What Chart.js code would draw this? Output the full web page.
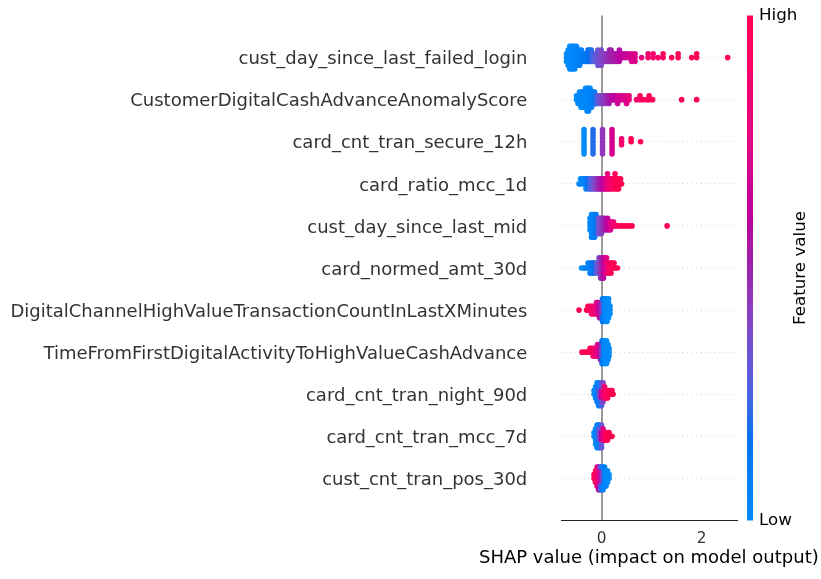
<!DOCTYPE html>
<html><head><meta charset="utf-8">
<script src="https://cdn.jsdelivr.net/npm/chart.js@4"></script>
<style>html,body{margin:0;padding:0;background:#fff}canvas{display:block}</style>
</head><body>
<canvas id="c" width="821" height="579" style="width:821px;height:579px"></canvas>
<script>
// Feature names, top to bottom
const features = [
  "cust_day_since_last_failed_login",
  "CustomerDigitalCashAdvanceAnomalyScore",
  "card_cnt_tran_secure_12h",
  "card_ratio_mcc_1d",
  "cust_day_since_last_mid",
  "card_normed_amt_30d",
  "DigitalChannelHighValueTransactionCountInLastXMinutes",
  "TimeFromFirstDigitalActivityToHighValueCashAdvance",
  "card_cnt_tran_night_90d",
  "card_cnt_tran_mcc_7d",
  "cust_cnt_tran_pos_30d"
];
const xTicks = [0, 2];
const colorbarLabels = ["Low", "High"];
const xTitle = "SHAP value (impact on model output)";
const cbTitle = "Feature value";

// Each entry: [SHAP value, number of samples at that value, normalised feature value 0..1]
const rowFailedLogin = [
 [-0.700,3,0.02],[-0.667,5,0.0],[-0.634,7,0.02],[-0.601,7,0.0],[-0.568,7,0.03],[-0.535,7,0.02],[-0.502,6,0.05],[-0.469,5,0.05],[-0.436,5,0.08],[-0.403,4,0.08],
 [-0.370,3,0.1],[-0.337,3,0.12],[-0.304,3,0.12],[-0.271,4,0.15],[-0.238,4,0.18],[-0.205,4,0.2],[-0.172,3,0.23],[-0.139,3,0.26],[-0.106,3,0.3],[-0.073,5,0.32],[-0.040,3,0.35],
 [-0.007,5,0.38],[0.026,3,0.4],[0.059,3,0.42],[0.092,3,0.44],[0.125,3,0.46],[0.158,4,0.48],[0.191,4,0.5],[0.224,3,0.52],[0.257,2,0.54],[0.290,3,0.55],[0.323,2,0.57],[0.356,4,0.58],[0.389,2,0.6],[0.422,2,0.62],[0.470,2,0.64],[0.530,2,0.66],[0.600,3,0.7],[0.670,3,0.72],
 [0.80,1,0.8],[0.93,2,0.85],[1.03,2,0.88],[1.13,1,0.9],[1.23,2,0.92],[1.40,1,0.95],[1.53,2,0.95],[1.80,1,0.98],[1.90,2,1.0],[2.52,1,1.0]
];
const rowAnomalyScore = [
 [-0.50,2,0.0],[-0.47,3,0.0],[-0.44,4,0.02],[-0.41,5,0.0],[-0.38,5,0.02],[-0.35,5,0.03],[-0.32,6,0.02],[-0.29,7,0.0],[-0.26,7,0.03],[-0.23,6,0.05],[-0.20,5,0.05],[-0.17,4,0.08],[-0.14,4,0.1],
 [-0.11,3,0.2],[-0.08,3,0.25],[-0.05,2,0.3],[-0.02,3,0.35],[0.02,3,0.4],[0.05,2,0.42],[0.08,3,0.45],[0.12,2,0.5],[0.15,3,0.52],[0.18,2,0.55],[0.22,2,0.58],[0.25,2,0.6],[0.28,2,0.62],[0.32,3,0.65],[0.35,2,0.68],[0.40,2,0.7],[0.45,2,0.72],[0.50,3,0.75],[0.55,2,0.8],
 [0.70,1,0.9],[0.77,2,0.92],[0.83,1,0.95],[0.90,1,0.95],[0.95,2,0.97],[1.02,1,1.0],[1.60,1,1.0],[1.90,1,1.0]
];
const rowSecure12h = [[-0.35,9,0.0],[-0.17,9,0.2],[0.02,9,0.45],[0.21,9,0.7],[0.40,3,0.88],[0.59,2,1.0],[0.78,1,1.0]];
const rowRatioMcc = [
 [-0.45,1,0.0],[-0.42,2,0.02],[-0.38,2,0.05],[-0.35,2,0.05],[-0.31,3,0.1],[-0.28,2,0.15],[-0.25,3,0.2],[-0.22,3,0.25],[-0.18,3,0.3],[-0.15,3,0.35],[-0.12,3,0.4],[-0.08,3,0.45],[-0.05,3,0.5],[-0.02,3,0.55],[0.02,3,0.6],[0.05,3,0.65],[0.08,3,0.7],[0.12,4,0.8],[0.15,3,0.85],[0.18,3,0.88],[0.22,3,0.9],[0.27,4,0.95],[0.30,3,1.0],[0.34,3,1.0],[0.38,2,1.0],[0.40,1,1.0]
];
const rowLastMid = [
 [-0.23,4,0.0],[-0.20,7,0.02],[-0.17,7,0.05],[-0.14,7,0.08],[-0.11,6,0.12],[-0.08,5,0.2],[-0.06,5,0.3],[-0.03,5,0.35],[0.00,5,0.4],[0.03,4,0.45],[0.06,4,0.5],[0.09,3,0.55],[0.12,4,0.6],[0.15,3,0.65],[0.18,3,0.72],[0.21,2,0.78],[0.24,2,0.82],[0.27,1,0.88],[0.31,1,0.92],[0.35,1,0.95],[0.40,1,1.0],[0.45,1,1.0],[0.50,1,1.0],[0.55,1,1.0],[0.61,1,1.0],[1.31,1,1.0]
];
const rowNormedAmt = [
 [-0.40,1,0.0],[-0.36,1,0.02],[-0.33,1,0.03],[-0.30,1,0.05],[-0.27,2,0.05],[-0.23,3,0.08],[-0.20,3,0.1],[-0.17,3,0.12],[-0.14,3,0.18],[-0.11,3,0.25],[-0.08,3,0.3],[-0.05,4,0.38],[-0.02,5,0.45],[0.01,5,0.5],[0.04,5,0.6],[0.07,4,0.68],[0.10,4,0.75],[0.13,3,0.85],[0.16,3,0.9],[0.19,3,0.95],[0.22,2,1.0],[0.25,2,1.0],[0.28,1,1.0],[0.32,1,1.0]
];
const rowHighValueCount = [
 [-0.45,1,1.0],[-0.30,1,1.0],[-0.27,2,1.0],[-0.23,2,0.95],[-0.20,3,0.92],[-0.17,3,0.88],[-0.13,3,0.85],[-0.10,4,0.8],[-0.07,4,0.7],[-0.04,5,0.6],[-0.01,5,0.5],[0.02,4,0.4],[0.02,3,0.15],[0.05,7,0.1],[0.08,7,0.03],[0.11,7,0.0],[0.14,6,0.0],[0.17,3,0.0]
];
const rowTimeToCashAdv = [
 [-0.39,1,1.0],[-0.34,1,1.0],[-0.30,1,1.0],[-0.26,1,1.0],[-0.23,2,0.97],[-0.20,2,0.95],[-0.17,3,0.92],[-0.14,3,0.88],[-0.11,3,0.85],[-0.08,4,0.78],[-0.05,4,0.68],[-0.02,5,0.55],[0.01,4,0.4],[0.01,3,0.15],[0.04,7,0.1],[0.07,7,0.03],[0.10,7,0.0],[0.13,5,0.0],[0.15,3,0.0]
];
const rowNight90d = [
 [-0.15,2,0.05],[-0.12,4,0.02],[-0.09,6,0.08],[-0.06,4,0.2],[-0.06,3,0.05],[-0.03,3,0.4],[-0.03,4,0.1],[0.00,3,0.6],[0.00,4,0.25],[0.03,3,0.8],[0.03,3,0.4],[0.06,4,0.85],[0.09,3,0.9],[0.12,3,0.95],[0.15,2,1.0],[0.18,2,1.0],[0.21,2,1.0],[0.23,1,1.0]
];
const rowMcc7d = [
 [-0.15,2,0.0],[-0.12,5,0.02],[-0.09,7,0.05],[-0.06,4,0.25],[-0.06,3,0.05],[-0.03,4,0.4],[-0.03,3,0.1],[0.00,3,0.6],[0.00,4,0.3],[0.03,4,0.75],[0.06,3,0.85],[0.09,3,0.92],[0.12,3,1.0],[0.15,2,1.0],[0.18,1,1.0],[0.21,1,1.0]
];
const rowPos30d = [
 [-0.15,2,1.0],[-0.12,4,0.95],[-0.09,6,0.88],[-0.06,4,0.8],[-0.06,3,0.6],[-0.03,4,0.7],[-0.03,3,0.4],[0.00,4,0.5],[0.00,3,0.2],[0.03,4,0.35],[0.03,3,0.05],[0.06,6,0.1],[0.09,5,0.03],[0.12,4,0.0],[0.15,2,0.0]
];
const rows = [rowFailedLogin,rowAnomalyScore,rowSecure12h,rowRatioMcc,rowLastMid,rowNormedAmt,rowHighValueCount,rowTimeToCashAdv,rowNight90d,rowMcc7d,rowPos30d];

// ---- SHAP red_blue colormap (LCH interpolation) ----
function lch2rgb(L, C, H) {
  const a = C*Math.cos(H), b = C*Math.sin(H);
  const fy = (L+16)/116, fx = fy + a/500, fz = fy - b/200;
  const finv = t => t > 0.2068966 ? t*t*t : (t - 16/116)/7.787;
  const X = 0.95047*finv(fx), Y = finv(fy), Z = Math.max(0, 1.08883*finv(fz));
  const r = 3.2404542*X - 1.5371385*Y - 0.4985314*Z;
  const g = -0.9692660*X + 1.8760108*Y + 0.0415560*Z;
  const bl = 0.0556434*X - 0.2040259*Y + 1.0572252*Z;
  const gam = c => { c = c > 0.0031308 ? 1.055*Math.pow(c, 1/2.4) - 0.055 : 12.92*c; return Math.min(1, Math.max(0, c)); };
  return [gam(r), gam(g), gam(bl)];
}
const cmapTable = (function(){
  const n = 100, blue = [54,70,4.6588], red = [54,90,0.35470565+2*Math.PI], lmid = 40;
  const t = [];
  for (let i = 0; i < n; i++) {
    const l = i < 50 ? blue[0] + (lmid - blue[0]) * i/49 : lmid + (red[0]-lmid) * (i-50)/49;
    const c = blue[1] + (red[1]-blue[1]) * i/(n-1);
    const h = blue[2] + (red[2]-blue[2]) * i/(n-1);
    t.push(lch2rgb(l, c, h));
  }
  return t;
})();
function cmap(v) {
  v = Math.min(1, Math.max(0, v));
  const f = v * 99, i = Math.min(98, Math.floor(f)), u = f - i;
  const a = cmapTable[i], b = cmapTable[i+1];
  const c = [0,1,2].map(k => Math.round(255*(a[k] + (b[k]-a[k])*u)));
  return `rgb(${c[0]},${c[1]},${c[2]})`;
}

// ---- beeswarm layout (same binning rule as shap) ----
function swarm(groups, rowY) {
  const pts = [];
  groups.forEach(([x, n, v]) => { for (let k = 0; k < n; k++) pts.push({x, v}); });
  const xs = pts.map(p => p.x);
  const lo = Math.min(...xs), hi = Math.max(...xs);
  pts.forEach(p => p.q = Math.round(100 * (p.x - lo) / (hi - lo + 1e-8)));
  const order = pts.map((p, i) => i).sort((a, b) => pts[a].q - pts[b].q || a - b);
  let layer = 0, last = -1;
  order.forEach(i => { const p = pts[i]; if (p.q !== last) layer = 0; p.ys = Math.ceil(layer/2) * ((layer % 2) * 2 - 1); layer++; last = p.q; });
  const mx = Math.max(...pts.map(p => p.ys + 1));
  const s = 0.9 * 0.4 / mx;
  return pts.map(p => ({x: p.x, y: rowY + p.ys * s, c: cmap(p.v)}));
}

const datasets = rows.map((r, i) => {
  const pts = swarm(r, features.length - 1 - i);
  return {
    data: pts.map(p => ({x: p.x, y: p.y})),
    pointBackgroundColor: pts.map(p => p.c),
    pointBorderWidth: 0,
    pointRadius: 2.8,
    pointHoverRadius: 2.8,
    showLine: false
  };
});

const FONT = 'DejaVu Sans';
const CB = {x: 747, w: 6, top: 15.5, bottom: 520.5};

const colorbarPlugin = {
  id: 'colorbar',
  afterDraw(chart) {
    const ctx = chart.ctx;
    const ca = chart.chartArea;
    ctx.save();
    // x axis title
    ctx.fillStyle = '#000';
    ctx.font = `18px "${FONT}"`;
    ctx.textAlign = 'center';
    ctx.textBaseline = 'middle';
    ctx.fillText(xTitle, (ca.left + ca.right) / 2, 558);
    // colorbar
    const g = ctx.createLinearGradient(0, CB.bottom, 0, CB.top);
    for (let i = 0; i <= 20; i++) g.addColorStop(i/20, cmap(i/20));
    ctx.fillStyle = g;
    ctx.fillRect(CB.x, CB.top, CB.w, CB.bottom - CB.top);
    ctx.fillStyle = '#000';
    ctx.font = `16.7px "${FONT}"`;
    ctx.textAlign = 'left';
    ctx.textBaseline = 'middle';
    ctx.fillText(colorbarLabels[1], 759, 16);
    ctx.fillText(colorbarLabels[0], 759, 521);
    ctx.translate(801, (CB.top + CB.bottom)/2);
    ctx.rotate(-Math.PI/2);
    ctx.textAlign = 'center';
    ctx.fillText(cbTitle, 0, 0);
    ctx.restore();
  }
};

new Chart(document.getElementById('c'), {
  type: 'scatter',
  data: { datasets },
  plugins: [colorbarPlugin],
  options: {
    responsive: false,
    devicePixelRatio: 1,
    animation: false,
    events: [],
    layout: { padding: { left: 0, right: 84.3, top: 15.5, bottom: 0 } },
    plugins: { legend: { display: false }, tooltip: { enabled: false } },
    scales: {
      x: {
        type: 'linear', min: -0.81, max: 2.7, position: 'bottom',
        afterBuildTicks: s => { s.ticks = xTicks.map(v => ({value: v})); },
        afterFit: s => { s.height = 58.5; },
        grid: { drawTicks: false, lineWidth: 2, color: c => (c.tick && c.tick.value === 0) ? '#999999' : 'rgba(0,0,0,0)' },
        border: { display: true, color: '#222222', width: 1 },
        ticks: { font: { family: FONT, size: 15.3 }, color: '#333333', padding: 9, callback: v => String(v) }
      },
      y: {
        type: 'linear', min: -1, max: 11,
        afterBuildTicks: s => { s.ticks = features.map((f, i) => ({value: i})); },
        afterFit: s => { s.width = 561; },
        grid: { drawTicks: true, tickLength: 33.7, tickColor: 'rgba(0,0,0,0)', color: '#cccccc', lineWidth: 0.8 },
        border: { display: false, dash: [1, 3.5] },
        ticks: { font: { family: FONT, size: 18 }, color: '#333333', padding: 0, labelOffset: 2,
                 callback: v => features[features.length - 1 - v] }
      }
    }
  }
});
</script>
</body></html>
